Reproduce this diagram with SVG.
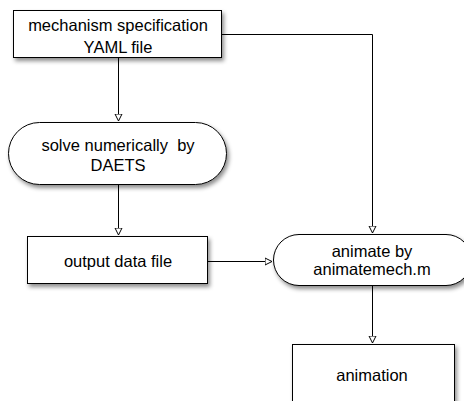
<svg xmlns="http://www.w3.org/2000/svg" width="464" height="401" viewBox="0 0 464 401">
<style>
.n{fill:#fff;stroke:#000;stroke-width:1;filter:url(#sh)}
.t{font-family:"Liberation Sans",Arial,sans-serif;font-size:16.5px;fill:#000;text-anchor:middle;white-space:pre}
.c{fill:none;stroke:#000;stroke-width:1;marker-end:url(#ah)}
</style>
<defs>
<filter id="sh" x="-10%" y="-20%" width="130%" height="150%">
<feDropShadow dx="2" dy="3" stdDeviation="2" flood-color="#000" flood-opacity="0.45"/>
</filter>
<marker id="ah" markerWidth="8" markerHeight="9" refX="7" refY="4" orient="auto" markerUnits="userSpaceOnUse" viewBox="0 0 8 8">
<path d="M0,0.5 L7,4 L0,7.5 Z" fill="#fff" stroke="#000" stroke-width="1"/>
</marker>
</defs>
<rect width="464" height="401" fill="#fff"/>
<g id="connectors">
<path class="c" d="M118.5,58 V121"/>
<path class="c" d="M118.5,185 V235"/>
<path class="c" d="M222,34.5 H372.5 V233"/>
<path class="c" d="M208,261.5 H272"/>
<path class="c" d="M372.5,286 V343"/>
</g>
<g id="node-spec">
<rect class="n" x="13.5" y="10.5" width="208" height="47"/>
<text class="t" x="118" y="31">mechanism specification</text>
<text class="t" x="118" y="53">YAML file</text>
</g>
<g id="node-solve">
<rect class="n" x="8.5" y="122.5" width="218" height="62" rx="31" ry="31"/>
<text class="t" x="118" y="151" xml:space="preserve">solve numerically  by</text>
<text class="t" x="118" y="171">DAETS</text>
</g>
<g id="node-output">
<rect class="n" x="27.5" y="236.5" width="180" height="47"/>
<text class="t" x="118" y="267">output data file</text>
</g>
<g id="node-animate">
<rect class="n" x="273.5" y="234.5" width="198" height="51" rx="25.5" ry="25.5"/>
<text class="t" x="372" y="257">animate by</text>
<text class="t" x="372" y="275">animatemech.m</text>
</g>
<g id="node-animation">
<rect class="n" x="292.5" y="344.5" width="162" height="70"/>
<text class="t" x="372" y="381">animation</text>
</g>
</svg>
